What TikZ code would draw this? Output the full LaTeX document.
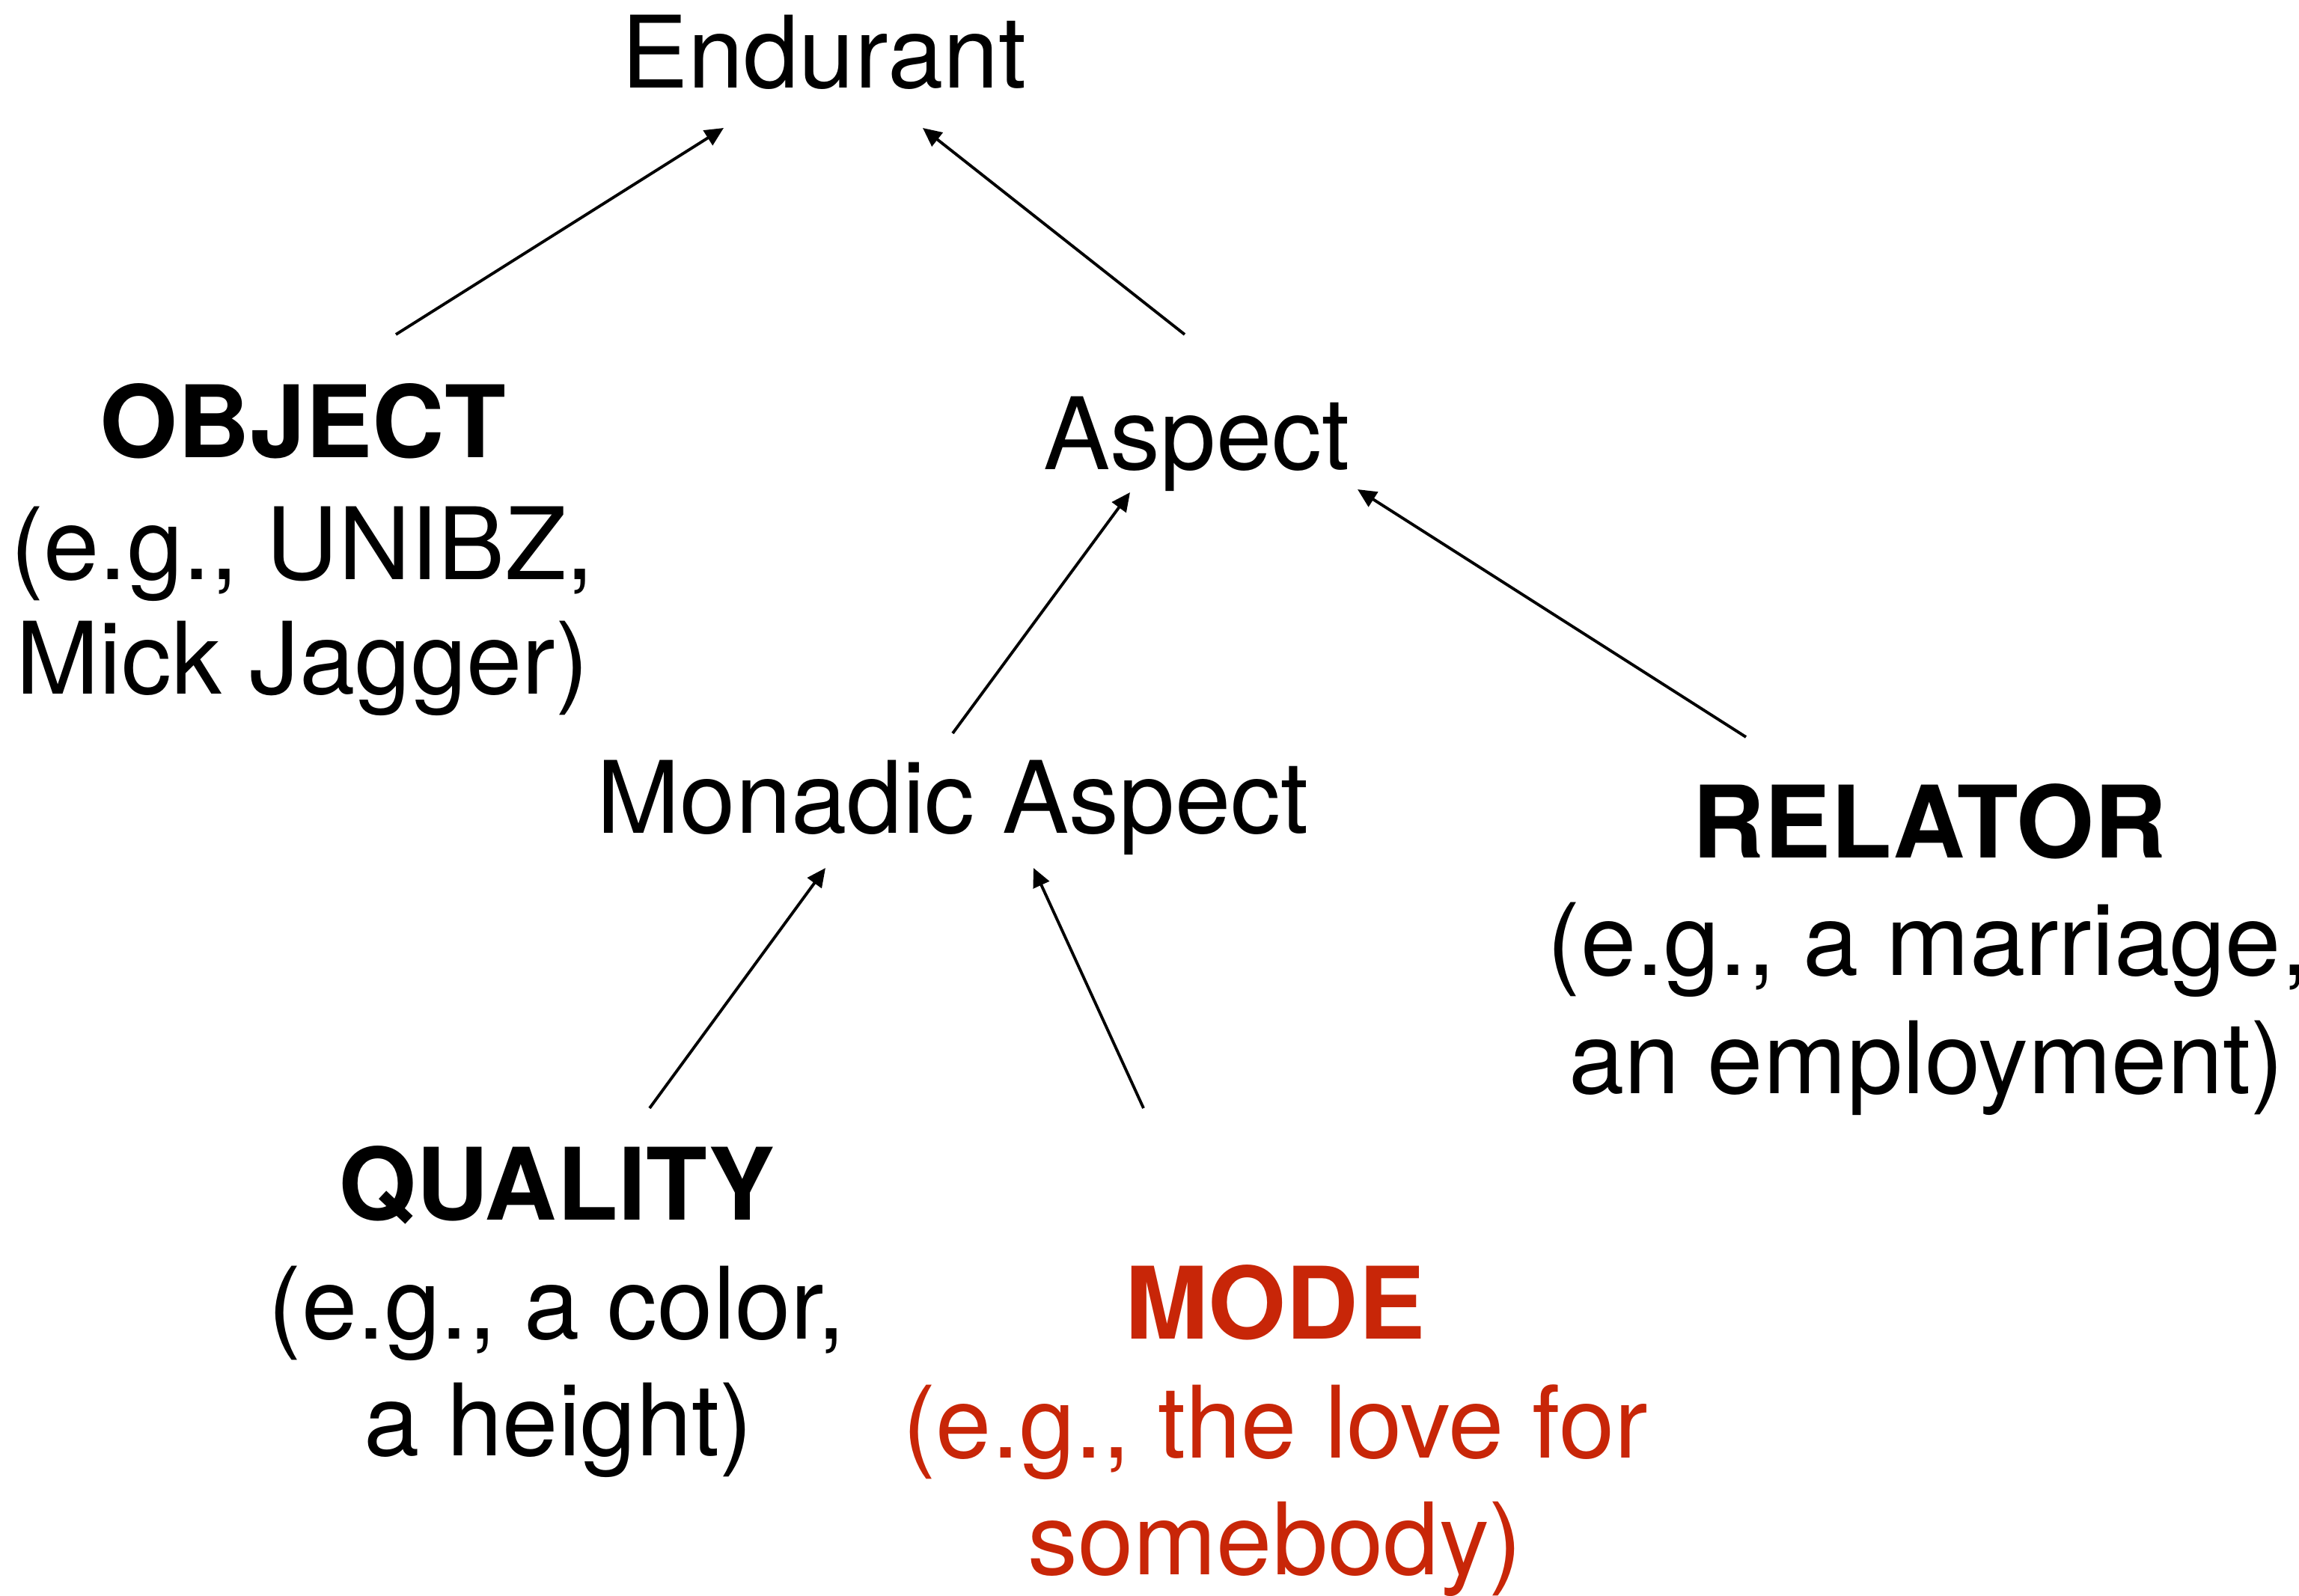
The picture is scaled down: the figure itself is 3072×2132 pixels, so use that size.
\documentclass[tikz,border=0pt]{standalone}
\usepackage{fontspec}
\setmainfont{TeX Gyre Heros}
\usetikzlibrary{arrows.meta}
\definecolor{modered}{RGB}{200,38,8}
\tikzset{
  lbl/.style={inner sep=0pt, anchor=base, font=\fontsize{38}{45}\selectfont},
  kind/.style={lbl, font=\fontsize{38}{45}\selectfont\bfseries},
  isa/.style={line width=1.1pt, -{Triangle[length=0.25cm,width=0.23cm]}}
}
\begin{document}
\begin{tikzpicture}[x=0.01cm,y=-0.01cm]
\useasboundingbox (0,0) rectangle (3072,2132);
% texts
\node[lbl] (endurant) at (1101,117) {Endurant};
\node[kind] (object) at (405,611) {OBJECT};
\node[lbl] (objectA) at (404,774) {(e.g., UNIBZ,};
\node[lbl] (objectB) at (404,927) {Mick Jagger)};
\node[lbl] (aspect) at (1599,627) {Aspect};
\node[lbl] (monadic) at (1273,1113) {Monadic Aspect};
\node[kind] (relator) at (2578,1146) {RELATOR};
\node[lbl, anchor=base west] (relatorA) at (2067,1303) {(e.g., a marriage,};
\node[lbl] (relatorB) at (2574,1461) {an employment)};
\node[kind] (quality) at (744,1630) {QUALITY};
\node[lbl] (qualityA) at (744,1789) {(e.g., a color,};
\node[lbl] (qualityB) at (746,1945) {a height)};
\node[kind, text=modered] (mode) at (1704,1789) {MODE};
\node[lbl, text=modered] (modeA) at (1704,1948) {(e.g., the love for};
\node[lbl, text=modered] (modeB) at (1704,2104) {somebody)};
% connector ends
\coordinate (objT) at (529,447);
\coordinate (endL) at (967,171);
\coordinate (aspT) at (1583,447);
\coordinate (endR) at (1233,171);
\coordinate (monT) at (1273,980);
\coordinate (aspL) at (1510,658);
\coordinate (relT) at (2333,985);
\coordinate (aspR) at (1814,654);
\coordinate (quaT) at (868,1481);
\coordinate (monL) at (1103,1160);
\coordinate (modT) at (1528,1481);
\coordinate (monR) at (1381,1160);
% connectors
\draw[isa] (objT) -- (endL);
\draw[isa] (aspT) -- (endR);
\draw[isa] (monT) -- (aspL);
\draw[isa] (relT) -- (aspR);
\draw[isa] (quaT) -- (monL);
\draw[isa] (modT) -- (monR);
\end{tikzpicture}
\end{document}
